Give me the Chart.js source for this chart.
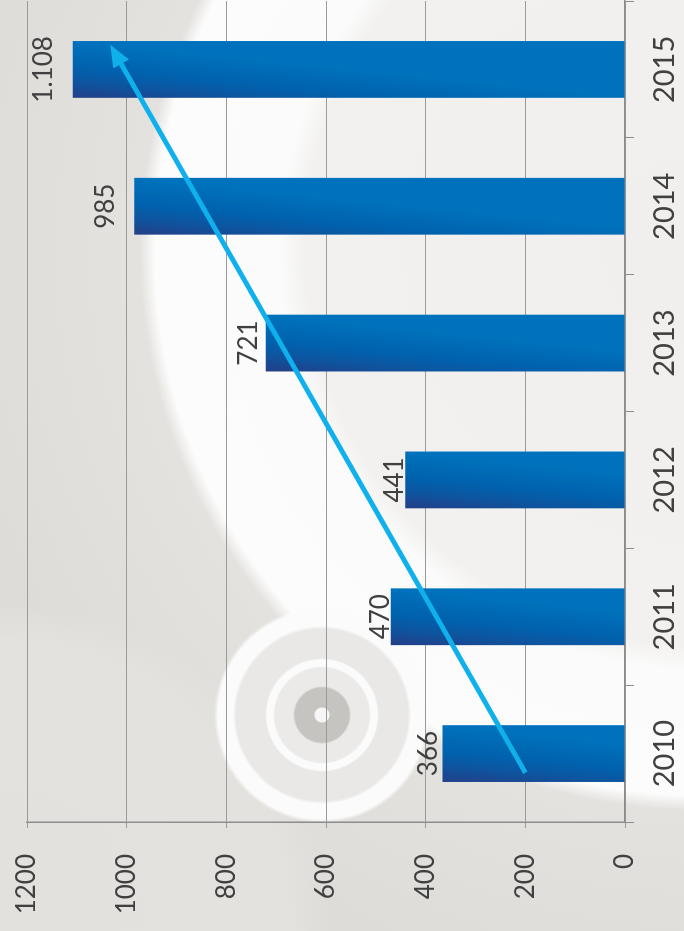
<!DOCTYPE html>
<html>
<head>
<meta charset="utf-8">
<script src="https://cdn.jsdelivr.net/npm/chart.js@4"></script>
<style>
  html, body { margin: 0; padding: 0; }
  body {
    width: 684px; height: 931px; overflow: hidden; position: relative;
    background:
      radial-gradient(circle 110px at 322px 715px, #f6f6f6 0, #f6f6f6 7px, #c6c4c0 8px, #c6c4c0 27px,
        #ebeae8 29px, #ebeae8 47px, #fbfbfb 49px, #fbfbfb 55px, #e9e8e6 57px, #e9e8e6 86px,
        #fbfbfb 89px, #fbfbfb 104px, rgba(251,251,251,0) 108px),
      radial-gradient(circle 330px at 0 931px, #e3e1de 0, #e4e2df 290px, rgba(228,226,223,0) 330px),
      radial-gradient(circle 560px at 700px 250px, #f0efed 0, #f2f1ef 395px, #fbfbfb 420px,
        #fcfcfc 545px, #e4e2df 560px, #dedcd9 760px);
  }
  #wrap {
    position: absolute; left: 0; top: 0; width: 931px; height: 684px;
    transform-origin: 0 0; transform: translate(0, 931px) rotate(-90deg);
  }
</style>
</head>
<body>
<div id="wrap"><canvas id="chart" width="931" height="684"></canvas></div>
<script>
const years = ['2010', '2011', '2012', '2013', '2014', '2015'];
const visitors = [366, 470, 441, 721, 985, 1108];
const valueLabels = ['366', '470', '441', '721', '985', '1.108'];
const axisMax = 1200;
const axisStep = 200;
// trend arrow: [category position, value]
const trendFrom = [-0.14, 200];
const trendTo = [5.18, 1033];

const labelGap = [6, 2, 2, 9, 20, 21];
const barPct = 0.415;
const textColor = '#404040';
const lineGrey = '#9a9a9a';

function barFill(c) {
  const chart = c.chart;
  const area = chart.chartArea;
  if (!area || c.type !== 'data') return '#0068b4';
  const xs = chart.scales.x, ys = chart.scales.y;
  const t = area.width / years.length * barPct;
  const left = xs.getPixelForValue(c.dataIndex) - t / 2;
  const top = ys.getPixelForValue(visitors[c.dataIndex]);
  const g = chart.ctx.createLinearGradient(left, top, left + t, top + t * 0.1);
  g.addColorStop(0, '#233f87');
  g.addColorStop(0.3, '#0d55a0');
  g.addColorStop(0.55, '#0062ae');
  g.addColorStop(1, '#0072bd');
  return g;
}

const trendArrow = {
  id: 'trendArrow',
  afterDatasetsDraw(chart) {
    const ctx = chart.ctx, xs = chart.scales.x, ys = chart.scales.y;
    const x0 = xs.getPixelForValue(trendFrom[0]), y0 = ys.getPixelForValue(trendFrom[1]);
    const x1 = xs.getPixelForValue(trendTo[0]), y1 = ys.getPixelForValue(trendTo[1]);
    const ang = Math.atan2(y1 - y0, x1 - x0);
    const headLen = 22, headHalf = 9;
    const bx = x1 - Math.cos(ang) * headLen, by = y1 - Math.sin(ang) * headLen;
    ctx.save();
    ctx.strokeStyle = '#0fb0ec';
    ctx.fillStyle = '#0fb0ec';
    ctx.lineWidth = 5;
    ctx.beginPath();
    ctx.moveTo(x0, y0);
    ctx.lineTo(bx + Math.cos(ang) * 2, by + Math.sin(ang) * 2);
    ctx.stroke();
    ctx.beginPath();
    ctx.moveTo(x1, y1);
    ctx.lineTo(bx - Math.sin(ang) * headHalf, by + Math.cos(ang) * headHalf);
    ctx.lineTo(bx + Math.sin(ang) * headHalf, by - Math.cos(ang) * headHalf);
    ctx.closePath();
    ctx.fill();
    ctx.restore();
  }
};

const barLabels = {
  id: 'barLabels',
  afterDatasetsDraw(chart) {
    const ctx = chart.ctx;
    ctx.save();
    ctx.font = '26px Lato';
    ctx.fillStyle = textColor;
    ctx.textAlign = 'center';
    ctx.textBaseline = 'alphabetic';
    chart.getDatasetMeta(0).data.forEach((bar, i) => {
      ctx.fillText(valueLabels[i], bar.x, bar.y - labelGap[i]);
    });
    ctx.restore();
  }
};

new Chart(document.getElementById('chart'), {
  type: 'bar',
  data: {
    labels: years,
    datasets: [{
      data: visitors,
      backgroundColor: barFill,
      borderWidth: 0,
      categoryPercentage: 1,
      barPercentage: barPct
    }]
  },
  options: {
    responsive: false,
    animation: false,
    devicePixelRatio: 1,
    layout: { padding: { top: 27, right: 1, left: 0, bottom: 0 } },
    plugins: { legend: { display: false }, tooltip: { enabled: false } },
    scales: {
      x: {
        grid: { offset: true, drawOnChartArea: false, drawTicks: true, tickLength: 9, color: '#8c8c8c' },
        border: { color: '#8c8c8c', width: 1.5 },
        ticks: { color: textColor, font: { family: 'Lato', size: 29 }, padding: 13 },
        afterFit(scale) { scale.height = 59; }
      },
      y: {
        min: 0,
        max: axisMax,
        ticks: {
          stepSize: axisStep, color: textColor, font: { family: 'Lato', size: 26 }, padding: 26,
          callback: v => String(v)
        },
        grid: { color: lineGrey, tickLength: 6 },
        border: { color: '#8c8c8c', width: 1.5 },
        afterFit(scale) {
          scale.width = 109;
          scale.paddingTop = 0;
          scale.paddingBottom = 0;
        }
      }
    }
  },
  plugins: [trendArrow, barLabels]
});
</script>
</body>
</html>
